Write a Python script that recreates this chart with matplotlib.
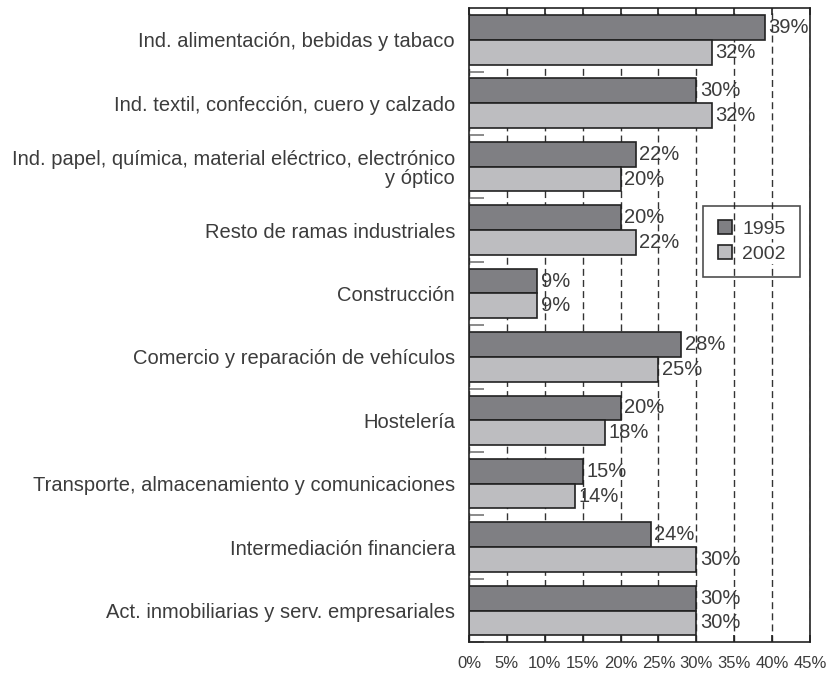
import numpy as np
import matplotlib.pyplot as plt

categories = [
    "Ind. alimentación, bebidas y tabaco",
    "Ind. textil, confección, cuero y calzado",
    "Ind. papel, química, material eléctrico, electrónico\ny óptico",
    "Resto de ramas industriales",
    "Construcción",
    "Comercio y reparación de vehículos",
    "Hostelería",
    "Transporte, almacenamiento y comunicaciones",
    "Intermediación financiera",
    "Act. inmobiliarias y serv. empresariales",
]
vals_1995 = [39, 30, 22, 20, 9, 28, 20, 15, 24, 30]
vals_2002 = [32, 32, 20, 22, 9, 25, 18, 14, 30, 30]
xticks = [0, 5, 10, 15, 20, 25, 30, 35, 40, 45]

plt.rcParams['font.family'] = ['Liberation Sans', 'DejaVu Sans']
text_color = '#3c3c3c'

fig = plt.figure(figsize=(8.3, 6.74), dpi=100)
ax = fig.add_axes([0.565, 0.047, 0.411, 0.941])

y = np.arange(len(categories))
h = 0.39
ax.barh(y - h / 2, vals_1995, height=h, color='#7f7f83', edgecolor='#222222',
        linewidth=1.2, label='1995')
ax.barh(y + h / 2, vals_2002, height=h, color='#bdbdc0', edgecolor='#222222',
        linewidth=1.2, label='2002')

for yi, v1, v2 in zip(y, vals_1995, vals_2002):
    ax.text(v1 + 0.45, yi - h / 2, f"{v1}%", va='center', ha='left',
            fontsize=14.5, color=text_color)
    ax.text(v2 + 0.45, yi + h / 2, f"{v2}%", va='center', ha='left',
            fontsize=14.5, color=text_color)

ax.set_xlim(0, 45)
ax.set_ylim(len(categories) - 0.5, -0.5)
ax.set_xticks(xticks)
ax.set_xticklabels([f"{t}%" for t in xticks], fontsize=12, color=text_color)
ax.set_yticks(y)
ax.set_yticklabels(categories, fontsize=14.5, color=text_color, ha='right',
                   multialignment='right', linespacing=1.0)
ax.tick_params(axis='y', which='major', length=0, pad=10)
ax.tick_params(axis='x', which='major', direction='in', top=True, bottom=True,
               length=5, width=1.2, color='#222222', pad=10)
ax.set_yticks(np.arange(len(categories)) + 0.5, minor=True)
ax.tick_params(axis='y', which='minor', direction='in', length=11,
               width=1.2, color='#777777')

ax.set_axisbelow(True)
ax.xaxis.grid(True, linestyle=(0, (5, 3)), color='#333333', linewidth=1)

for s in ax.spines.values():
    s.set_linewidth(1.2)
    s.set_color('#222222')

# legend box is see-through, only the year labels sit on white
leg = ax.legend(loc='center right', bbox_to_anchor=(0.971, 0.632),
                fontsize=14, frameon=True, fancybox=False,
                handlelength=0.75, handleheight=0.75, handletextpad=0.5,
                borderpad=0.75, labelspacing=0.35, borderaxespad=0)
leg.get_frame().set_edgecolor('#222222')
leg.get_frame().set_linewidth(1.2)
leg.get_frame().set_facecolor('none')
for t in leg.get_texts():
    t.set_color(text_color)
    t.set_bbox(dict(facecolor='white', edgecolor='none', pad=1))

fig.savefig('out.png', dpi=100)
